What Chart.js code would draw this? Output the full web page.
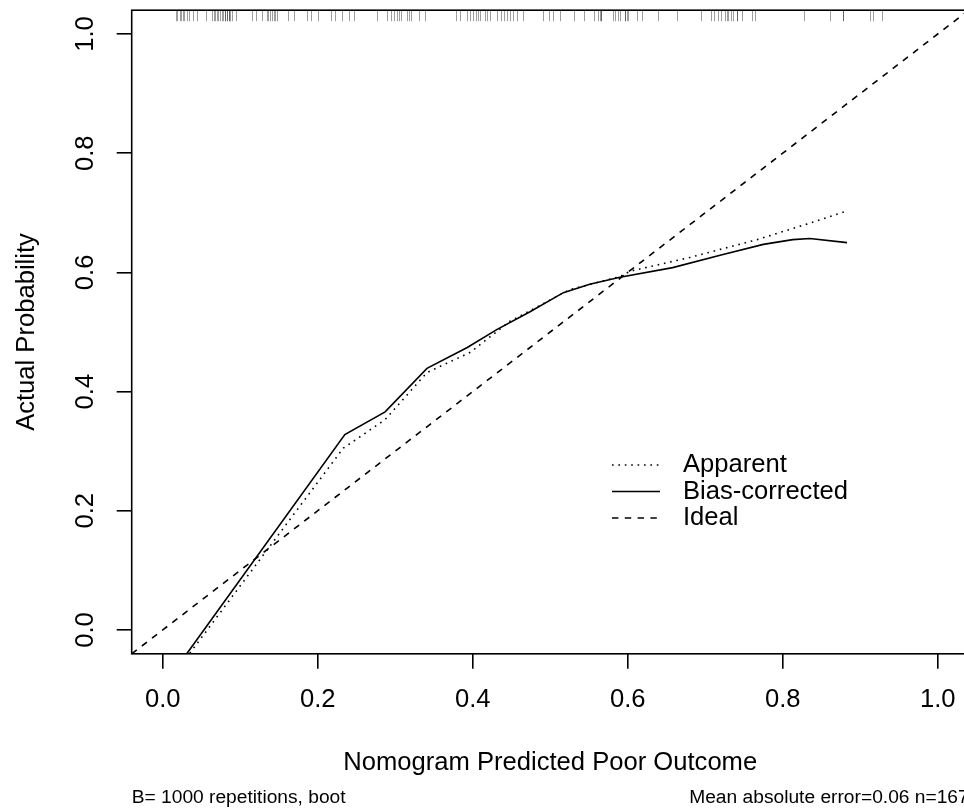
<!DOCTYPE html>
<html>
<head>
<meta charset="utf-8">
<title>Calibration curve</title>
<script src="https://cdn.jsdelivr.net/npm/chart.js@4.4.1/dist/chart.umd.min.js"></script>
<style>
  html, body { margin: 0; padding: 0; background: #fff; overflow: hidden; }
  canvas { display: block; }
</style>
</head>
<body>
<canvas id="calib" width="1000" height="810"></canvas>
<script>
// apparent (dotted) calibration curve
const apparentX = [0.035, 0.233, 0.287, 0.341, 0.397, 0.448, 0.525, 0.590, 0.603, 0.680, 0.767, 0.831, 0.883];
const apparentY = [-0.039, 0.305, 0.353, 0.432, 0.466, 0.518, 0.571, 0.593, 0.602, 0.625, 0.655, 0.681, 0.703];

// bias-corrected (solid) calibration curve
const correctedX = [0.031, 0.235, 0.287, 0.341, 0.393, 0.431, 0.474, 0.517, 0.551, 0.590, 0.658, 0.723, 0.775, 0.813, 0.835, 0.883];
const correctedY = [-0.040, 0.328, 0.366, 0.439, 0.474, 0.504, 0.534, 0.566, 0.580, 0.592, 0.608, 0.630, 0.647, 0.655, 0.657, 0.650];

// ideal line, corner to corner
const idealX = [-0.04, 1.04];
const idealY = [-0.04, 1.04];

// predicted probabilities (rug along the top)
const rugX = [
  0.017, 0.019, 0.022, 0.024, 0.026, 0.027, 0.031, 0.034, 0.039, 0.044, 0.056,
  0.064, 0.066, 0.068, 0.070, 0.072, 0.074, 0.076, 0.078, 0.080, 0.080, 0.083, 0.083,
  0.085, 0.085, 0.087, 0.090, 0.095, 0.115, 0.120, 0.128, 0.134, 0.136, 0.138,
  0.141, 0.143, 0.145, 0.147, 0.162, 0.169, 0.186, 0.191, 0.201, 0.217, 0.222,
  0.231, 0.240, 0.247, 0.276, 0.289, 0.294, 0.298, 0.302, 0.305, 0.308, 0.315,
  0.318, 0.320, 0.331, 0.338, 0.379, 0.384, 0.393, 0.397, 0.401, 0.404, 0.407,
  0.410, 0.416, 0.418, 0.422, 0.432, 0.436, 0.440, 0.444, 0.448, 0.452, 0.457,
  0.465, 0.491, 0.498, 0.504, 0.513, 0.531, 0.543, 0.556, 0.562, 0.564, 0.566, 0.566,
  0.581, 0.584, 0.587, 0.590, 0.597, 0.597, 0.599, 0.601, 0.612, 0.618, 0.639, 0.663,
  0.695, 0.708, 0.711, 0.716, 0.721, 0.726, 0.728, 0.730, 0.733, 0.736, 0.741, 0.741,
  0.748, 0.760, 0.764, 0.827, 0.861, 0.878, 0.878, 0.913, 0.917, 0.928
];

const xTicks = [0, 0.2, 0.4, 0.6, 0.8, 1.0];
const yTicks = [0, 0.2, 0.4, 0.6, 0.8, 1.0];

const seriesLabels = ['Apparent', 'Bias-corrected', 'Ideal'];
const xTitle = 'Nomogram Predicted Poor Outcome';
const yTitle = 'Actual Probability';
const subLeft = 'B= 1000 repetitions, boot';
const subRight = 'Mean absolute error=0.06 n=167';

const FONT = "'Liberation Sans', Arial, Helvetica, sans-serif";
const LW = 1.6;

Chart.defaults.font.family = FONT;
Chart.defaults.color = '#000';

function pts(xs, ys) {
  return xs.map((x, i) => ({ x: x, y: ys[i] }));
}

// R-style box around the plot region plus the rug of predictions
const boxAndRug = {
  id: 'boxAndRug',
  afterDatasetsDraw(chart) {
    const { ctx, chartArea: a } = chart;
    const xs = chart.scales.x;
    ctx.save();
    ctx.strokeStyle = 'rgba(0,0,0,0.38)';
    ctx.lineWidth = 1;
    rugX.forEach(v => {
      const px = Math.round(xs.getPixelForValue(v)) + 0.5;
      ctx.beginPath();
      ctx.moveTo(px, a.top);
      ctx.lineTo(px, a.top + 11);
      ctx.stroke();
    });
    ctx.strokeStyle = '#000';
    ctx.lineWidth = LW;
    ctx.strokeRect(a.left, a.top, a.right - a.left, a.bottom - a.top);
    ctx.restore();
  }
};

// legend drawn inside the plot, using each dataset's own line style
const lineLegend = {
  id: 'lineLegend',
  afterDraw(chart) {
    const { ctx } = chart;
    const x0 = 612, x1 = 660, tx = 683;
    const rows = [465, 491.5, 518];
    ctx.save();
    ctx.font = '25.6px ' + FONT;
    ctx.textBaseline = 'middle';
    ctx.fillStyle = '#000';
    chart.data.datasets.forEach((ds, i) => {
      ctx.strokeStyle = ds.borderColor;
      ctx.lineWidth = ds.borderWidth;
      ctx.setLineDash(ds.borderDash || []);
      ctx.beginPath();
      ctx.moveTo(x0, rows[i]);
      ctx.lineTo(x1, rows[i]);
      ctx.stroke();
      ctx.fillText(ds.label, tx, rows[i]);
    });
    ctx.restore();
  }
};

// subtitles under the x axis title
const subtitles = {
  id: 'subtitles',
  afterDraw(chart) {
    const { ctx, chartArea: a } = chart;
    ctx.save();
    ctx.font = '19.2px ' + FONT;
    ctx.fillStyle = '#000';
    ctx.textBaseline = 'middle';
    ctx.textAlign = 'left';
    ctx.fillText(subLeft, a.left, 798);
    ctx.textAlign = 'right';
    ctx.fillText(subRight, a.right, 798);
    ctx.restore();
  }
};

const ctx = document.getElementById('calib');

const chart = new Chart(ctx, {
  type: 'scatter',
  data: {
    datasets: [
      {
        label: seriesLabels[0],
        data: pts(apparentX, apparentY),
        showLine: true, borderColor: '#000', borderWidth: LW,
        borderDash: [1.6, 4.8], pointRadius: 0, tension: 0
      },
      {
        label: seriesLabels[1],
        data: pts(correctedX, correctedY),
        showLine: true, borderColor: '#000', borderWidth: LW,
        pointRadius: 0, tension: 0
      },
      {
        label: seriesLabels[2],
        data: pts(idealX, idealY),
        showLine: true, borderColor: '#000', borderWidth: LW,
        borderDash: [6.4, 6.4], pointRadius: 0, tension: 0
      }
    ]
  },
  options: {
    responsive: false,
    animation: false,
    layout: { autoPadding: false, padding: { left: 0, top: 10.2, right: 31.3, bottom: 0 } },
    plugins: {
      legend: { display: false },
      tooltip: { enabled: false }
    },
    scales: {
      x: {
        type: 'linear',
        min: -0.04, max: 1.04,
        afterBuildTicks: s => { s.ticks = xTicks.map(v => ({ value: v })); },
        afterFit: s => { s.height = 156.2; s.paddingLeft = 0; s.paddingRight = 0; },
        grid: { drawOnChartArea: false, drawTicks: true, tickLength: 15, color: '#000', lineWidth: LW },
        border: { display: false },
        ticks: {
          font: { size: 25.6 }, padding: 16, maxRotation: 0, autoSkip: false,
          callback: v => v.toFixed(1)
        },
        title: { display: true, text: xTitle, font: { size: 25.6 }, padding: { top: 0, bottom: 31.6 } }
      },
      y: {
        type: 'linear',
        min: -0.04, max: 1.04,
        afterBuildTicks: s => { s.ticks = yTicks.map(v => ({ value: v })); },
        afterFit: s => { s.width = 131.7; s.paddingTop = 0; s.paddingBottom = 0; },
        grid: { drawOnChartArea: false, drawTicks: true, tickLength: 15, color: '#000', lineWidth: LW },
        border: { display: false },
        ticks: {
          font: { size: 25.6 }, padding: 13, minRotation: 90, maxRotation: 90,
          crossAlign: 'center', autoSkip: false,
          callback: v => v.toFixed(1)
        },
        title: { display: true, text: yTitle, font: { size: 25.6 }, padding: { top: 11.6, bottom: 0 } }
      }
    }
  },
  plugins: [boxAndRug, lineLegend, subtitles]
});
</script>
</body>
</html>
